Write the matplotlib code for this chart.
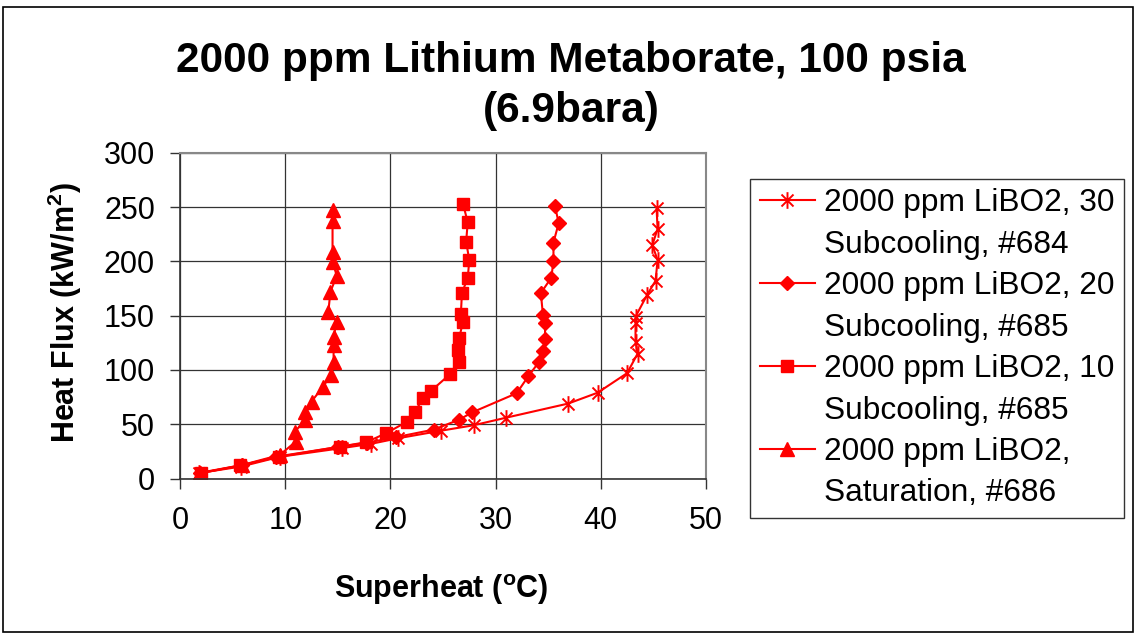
import matplotlib
matplotlib.use("Agg")
import matplotlib.pyplot as plt
from matplotlib.path import Path
from matplotlib.lines import Line2D
from matplotlib.patches import Rectangle

plt.rcParams['font.family'] = ['Liberation Sans', 'DejaVu Sans']
plt.rcParams['mathtext.fontset'] = 'custom'
plt.rcParams['mathtext.rm'] = 'Liberation Sans'
plt.rcParams['mathtext.bf'] = 'Liberation Sans:bold'

# ---- data ----
sub30_x = [1.8, 5.8, 9.5, 15.4, 18.2, 20.7, 24.8, 27.9, 31.0, 36.9, 39.7, 42.5,
           43.5, 43.3, 43.3, 43.3, 44.4, 45.2, 45.4, 44.9, 45.4, 45.3]
sub30_y = [5, 11, 20, 28, 32, 37, 44, 49, 56, 69, 79, 97,
           115, 126, 143, 149, 169, 182, 201, 215, 230, 249]

sub20_x = [1.9, 5.9, 9.1, 15.0, 17.8, 20.5, 24.1, 26.5, 27.8, 32.0, 33.1, 34.1,
           34.5, 34.7, 34.7, 34.5, 34.3, 35.3, 35.5, 35.5, 36.0, 35.65]
sub20_y = [5, 12, 20, 29, 33, 38, 45, 54, 61, 78.5, 94, 107,
           117.5, 128.6, 143.6, 150.7, 170.7, 185, 200.7, 217.3, 235.2, 250.5]

sub10_x = [2.0, 5.7, 9.4, 15.2, 17.7, 19.6, 21.6, 22.35, 23.1, 23.9, 25.7, 26.55,
           26.4, 26.55, 26.9, 26.7, 26.8, 27.35, 27.5, 27.2, 27.35, 26.9]
sub10_y = [5, 12, 20, 29.3, 33.4, 41.7, 52.4, 61.6, 73.9, 81, 96.3, 107.6,
           118.4, 129.8, 144.5, 151.6, 171, 184.5, 201, 218, 236, 253]

sat_x = [1.9, 5.9, 9.5, 11.0, 10.9, 11.9, 11.9, 12.5, 13.6, 14.35, 14.6, 14.6,
         14.6, 14.9, 14.1, 14.3, 14.9, 14.5, 14.5, 14.5, 14.5]
sat_y = [5.3, 12.4, 21.7, 34, 43, 53.9, 61.6, 70.8, 84.6, 95.4, 107.6, 123,
         130.7, 144.5, 153.7, 172, 186.6, 199.8, 209, 236.7, 246.8]

labels_line1 = ["2000 ppm LiBO2, 30", "2000 ppm LiBO2, 20",
                "2000 ppm LiBO2, 10", "2000 ppm LiBO2,"]
labels_line2 = ["Subcooling, #684", "Subcooling, #685",
                "Subcooling, #685", "Saturation, #686"]

title = "2000 ppm Lithium Metaborate, 100 psia\n(6.9bara)"
x_ticks = [0, 10, 20, 30, 40, 50]
y_ticks = [0, 50, 100, 150, 200, 250, 300]

# ---- figure ----
fig = plt.figure(figsize=(11.36, 6.35), dpi=100)
ax = fig.add_axes([180/1136, 1-478.5/635, (706-180)/1136, (478.5-152.7)/635])

star = Path([(0, -1), (0, 1), (-0.72, -0.72), (0.72, 0.72), (-0.72, 0.72), (0.72, -0.72)],
            [Path.MOVETO, Path.LINETO, Path.MOVETO, Path.LINETO, Path.MOVETO, Path.LINETO])

red = '#FF0000'
lw = 1.5
h1, = ax.plot(sub30_x, sub30_y, color=red, lw=lw, marker=star, ms=12,
              mec=red, mew=1.4, mfc='none')
h2, = ax.plot(sub20_x, sub20_y, color=red, lw=lw, marker='D', ms=7.5,
              mec=red, mfc=red)
h3, = ax.plot(sub10_x, sub10_y, color=red, lw=lw, marker='s', ms=8,
              mec=red, mfc=red)
h4, = ax.plot(sat_x, sat_y, color=red, lw=lw, marker='^', ms=9.5,
              mec=red, mfc=red)

ax.set_xlim(0, 50)
ax.set_ylim(0, 300)
ax.set_xticks(x_ticks)
ax.set_yticks(y_ticks)
ax.grid(True, color='#333333', lw=0.9)
ax.set_axisbelow(True)
ax.tick_params(axis='both', labelsize=22, length=7, width=1, color='#333333', direction='out')
ax.tick_params(axis='x', pad=13)
ax.tick_params(axis='y', pad=11)
for s in ['left', 'bottom']:
    ax.spines[s].set_color('#333333')
    ax.spines[s].set_linewidth(1.2)
for s in ['top', 'right']:
    ax.spines[s].set_color('#888888')
    ax.spines[s].set_linewidth(1.5)

fig.text(571/1136, 1-86/635, title, ha='center', va='center', fontsize=30.5,
         fontweight='bold', linespacing=1.33)
fig.text(441/1136, 1-590/635, r'Superheat ($^\mathbf{o}$C)', ha='center', va='center',
         fontsize=22, fontweight='bold')
fig.text(65/1136, 1-313/635, r'Heat Flux (kW/m$^\mathbf{2}$)', ha='center', va='center',
         fontsize=22, fontweight='bold', rotation=90)

blank = Line2D([], [], linestyle='none', marker=None, alpha=0)
handles = []
labels = []
for h, l1, l2 in zip([h1, h2, h3, h4], labels_line1, labels_line2):
    handles += [h, blank]
    labels += [l1, l2]
leg = fig.legend(handles, labels, loc='upper left', bbox_to_anchor=(750/1136, 1-179/635),
                 bbox_transform=fig.transFigure, fontsize=22.8, frameon=True, fancybox=False,
                 edgecolor='black', borderpad=0.3, labelspacing=0.36, handlelength=1.75,
                 handletextpad=0.3, borderaxespad=0)
leg.get_frame().set_linewidth(1.0)

fig.patches.append(Rectangle((3/1136, 3/635), 1130/1136, 625/635, transform=fig.transFigure,
                             fill=False, edgecolor='black', lw=1.2))

fig.savefig('out.png', dpi=100)
